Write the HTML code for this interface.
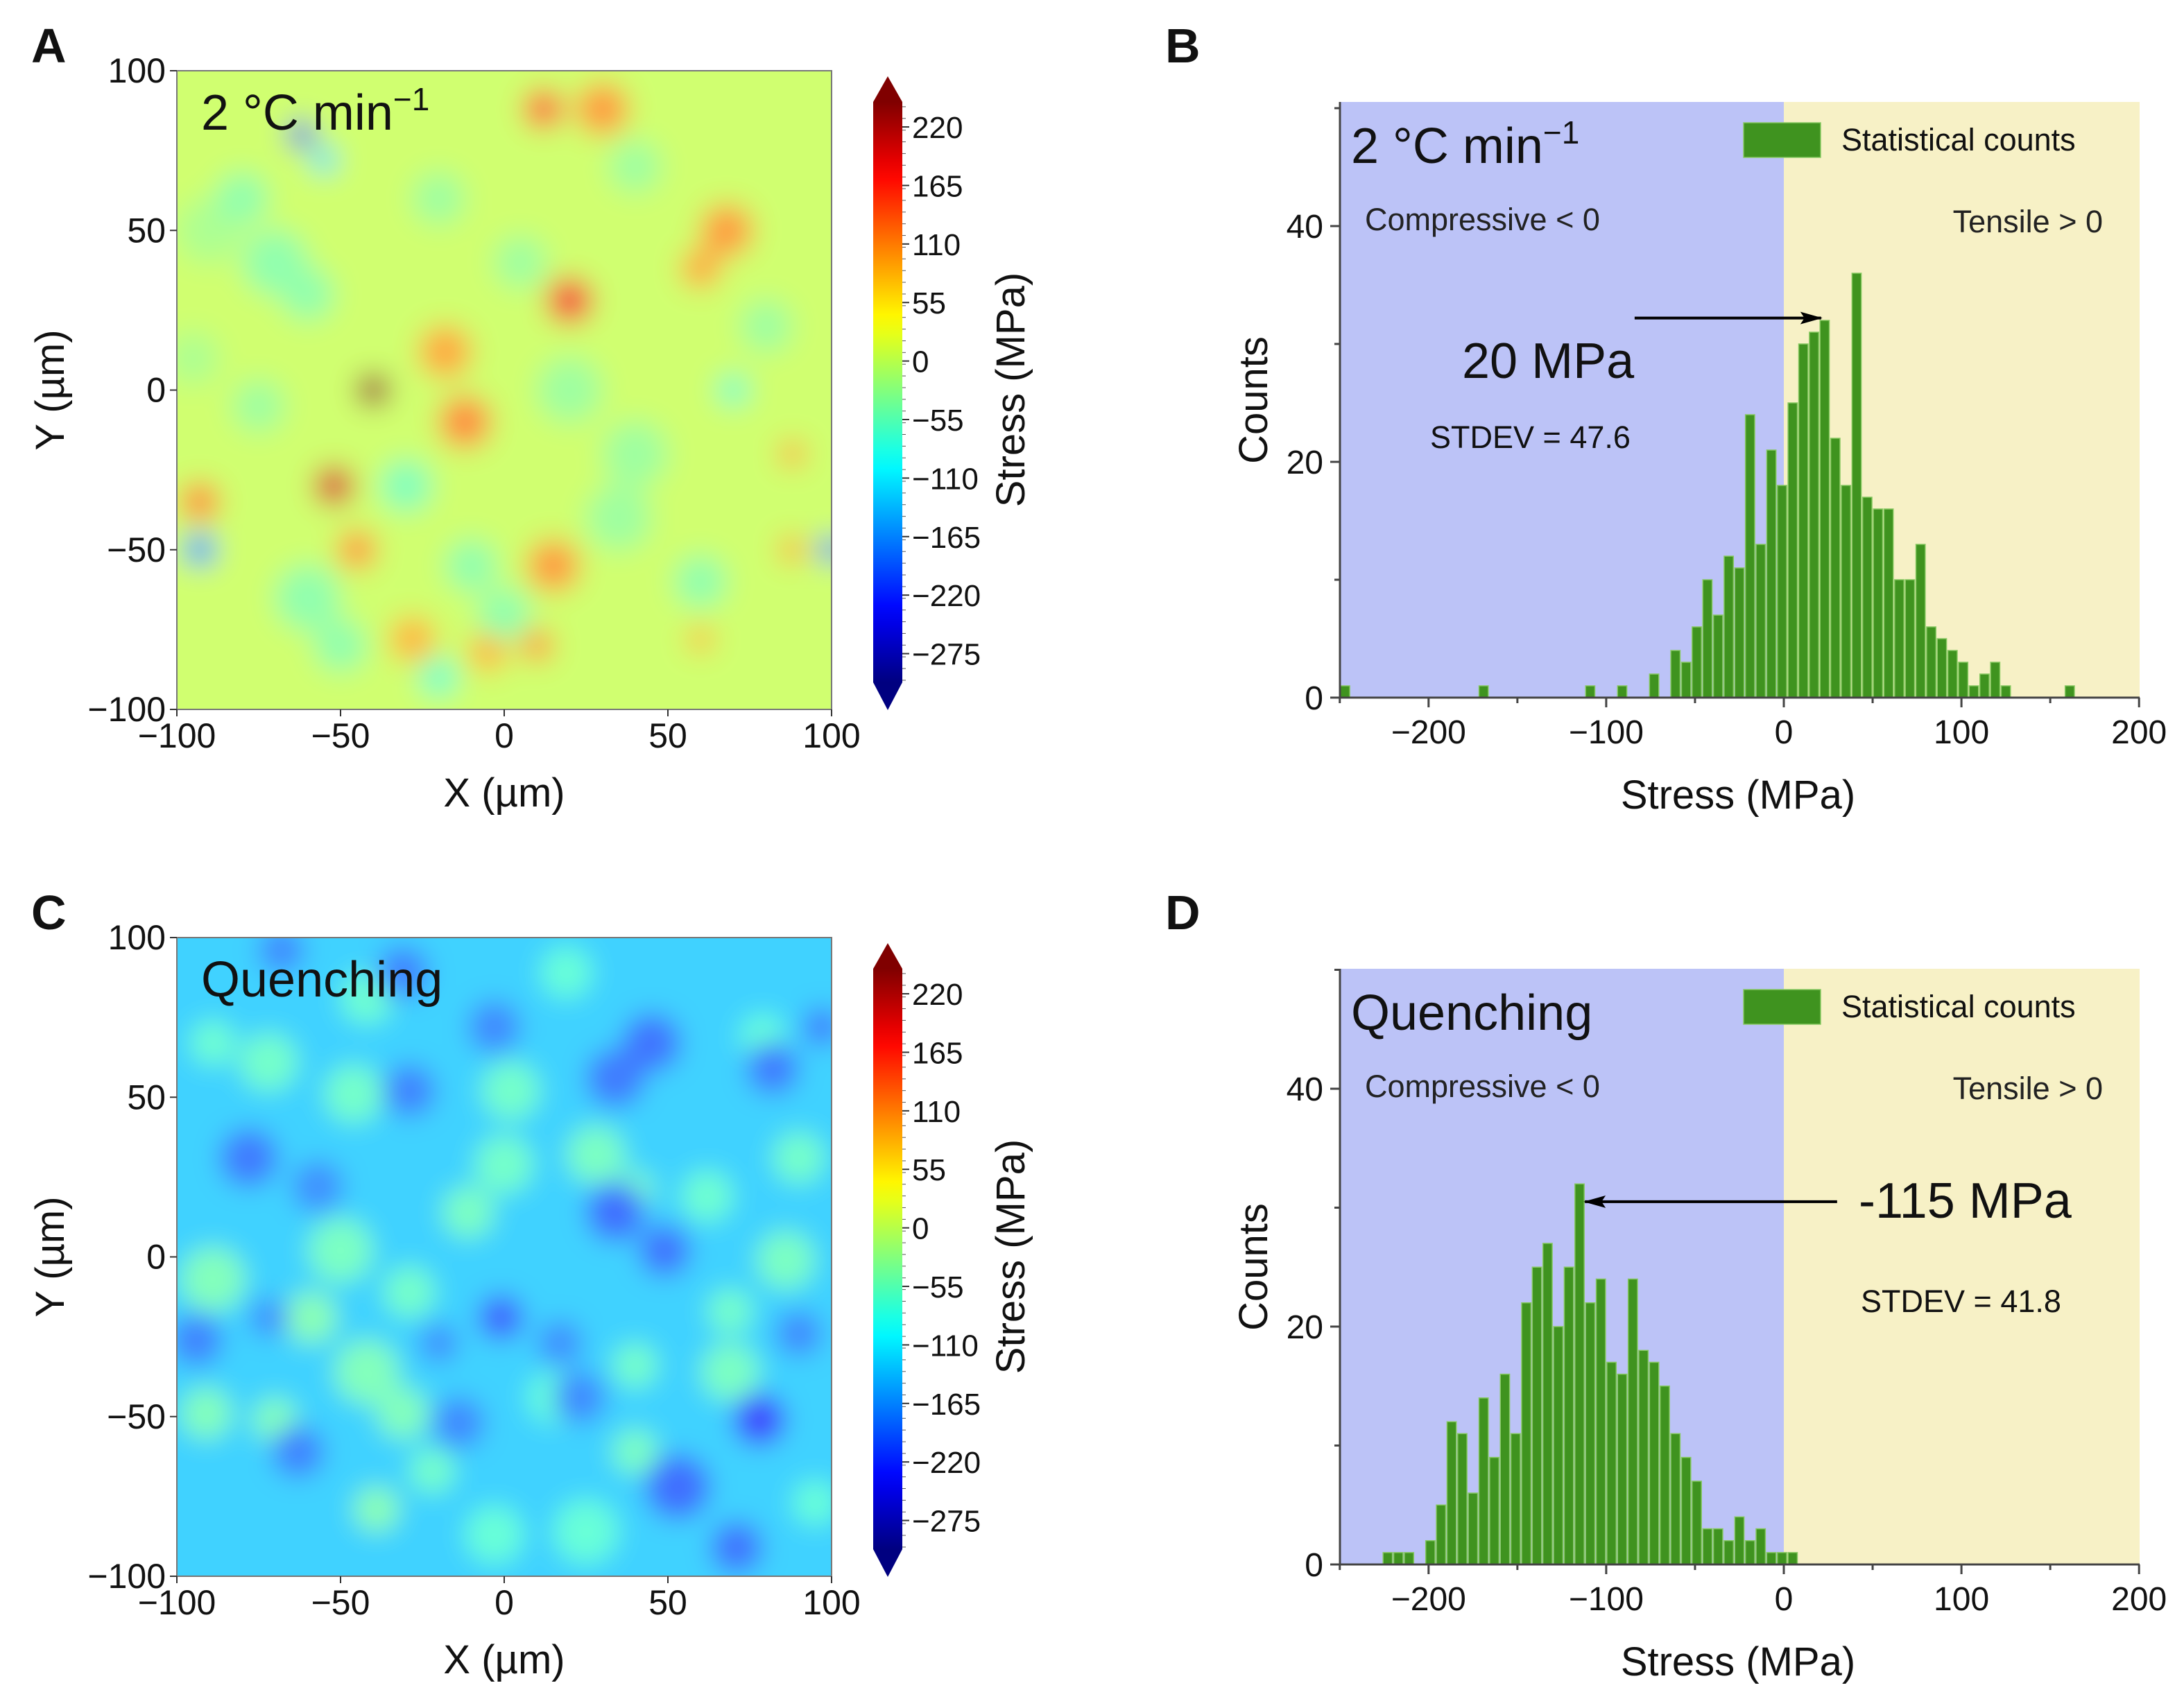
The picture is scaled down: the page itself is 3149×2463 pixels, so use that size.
<!DOCTYPE html>
<html><head><meta charset="utf-8">
<style>
html,body{margin:0;padding:0;background:#fff;}
svg{display:block;font-family:"Liberation Sans",Arial,sans-serif;}
</style></head>
<body>
<svg id="fig" width="3149" height="2463" viewBox="0 0 3149 2463" xmlns="http://www.w3.org/2000/svg">
<defs>
<filter id="blurA" x="-20%" y="-20%" width="140%" height="140%"><feGaussianBlur stdDeviation="20"/></filter>
<filter id="blurC" x="-20%" y="-20%" width="140%" height="140%"><feGaussianBlur stdDeviation="18"/></filter>
<clipPath id="clipA"><rect x="255" y="102" width="944" height="921"/></clipPath>
<clipPath id="clipC"><rect x="255" y="1352" width="944" height="921"/></clipPath>
<marker id="arrowhead" markerWidth="32" markerHeight="18" refX="30" refY="9" orient="auto" markerUnits="userSpaceOnUse" viewBox="0 0 32 18"><path d="M0,0 L32,9 L0,18 L6,9 Z" fill="#000"/></marker>
</defs>
</svg>
<script>
// ---------------- Data ----------------
const binsB = [-247,-169,-109,-91,-73,-61,-55,-49,-43,-37,-31,-25,-19,-13,-7,-1,5,11,17,23,29,35,41,47,53,59,65,71,77,83,89,95,101,107,113,119,125,161];
const countsB = [1,1,1,1,2,4,3,6,10,7,12,11,24,13,21,18,25,30,31,32,22,18,36,17,16,16,10,10,13,6,5,4,3,1,2,3,1,1];
const binsD = [-223,-217,-211,-205,-199,-193,-187,-181,-175,-169,-163,-157,-151,-145,-139,-133,-127,-121,-115,-109,-103,-97,-91,-85,-79,-73,-67,-61,-55,-49,-43,-37,-31,-25,-19,-13,-7,-1,5];
const countsD = [1,1,1,0,2,5,12,11,6,14,9,16,11,22,25,27,20,25,32,22,24,17,16,24,18,17,15,11,9,7,3,3,2,4,2,3,1,1,1];
const histXTicks = [-200,-100,0,100,200];
const histYTicks = [0,20,40];
const mapTicks = [-100,-50,0,50,100];
const cbarTicks = [220,165,110,55,0,-55,-110,-165,-220,-275];
// Stress map A blobs: x (µm), y (µm), stress (MPa), radius (µm)
const blobsAx = [-40,-52,20,12,30,68,60,-12,-18,-93,-45,15,-28,-5,10,60,88,88,-62,-55,-93,100,-70,-60,-20,35,-90,70,40,-80,-60,-30,-10,20,0,-50,80,40,-20,-95,60,-75,5];
const blobsAy = [0,-30,28,88,88,50,38,-10,12,-35,-50,-55,-78,-82,-80,-78,-20,-50,80,72,-50,-50,40,-65,-90,-40,50,0,-20,60,30,-30,-55,0,-70,-80,20,70,60,10,-60,-5,40];
const blobsAv = [250,200,180,150,110,110,100,120,100,120,110,110,90,90,110,90,100,100,-240,-120,-170,-200,-40,-40,-60,-30,-20,-60,-30,-40,-40,-50,-40,-30,-40,-40,-30,-30,-30,-20,-40,-30,-30];
const blobsAr = [5,6,7,6,8,8,6,8,8,6,6,8,7,6,5,4,4,4,4,4,5,4,10,10,6,10,10,5,10,8,8,8,8,10,8,8,8,8,8,8,8,8,8];
// Stress map C blobs
const blobsCx = [-72,-46,2,0,28,-11,40,90,86,-50,-89,-59,-42,-91,-70,-31,-22,-39,69,40,69,40,15,25,-3,-29,62,79,-42,-89,19,95,
                 78,-1,34,49,-78,-29,34,45,82,-3,-31,53,71,-94,-63,-14,23,90,-57,17,97,-68,-72,-20];
const blobsCy = [61,51,52,29,32,14,21,31,-1,2,-7,-19,-36,-49,-51,-49,-67,-79,-36,-61,-17,-34,-44,-86,-87,-11,19,69,81,67,89,-77,
                 -51,-19,14,2,31,52,56,67,59,72,89,-72,-91,-26,-61,-52,-44,-24,22,-27,72,96,-19,-27];
const blobsCv = [-60,-60,-60,-60,-55,-55,-55,-60,-55,-55,-50,-45,-50,-50,-50,-50,-60,-45,-55,-55,-60,-60,-70,-70,-70,-60,-65,-70,-65,-65,-70,-70,
                 -225,-205,-200,-195,-190,-185,-190,-195,-190,-180,-185,-200,-195,-185,-185,-180,-180,-180,-175,-175,-185,-180,-175,-175];
const blobsCr = [9,9,9,9,9,8,6,8,9,10,10,8,10,8,7,8,7,7,9,7,7,7,8,10,9,8,8,7,8,7,8,7,
                 8,7,9,8,9,8,9,9,8,8,8,10,8,8,8,8,8,7,8,7,6,7,6,6];

// ---------------- Helpers ----------------
const NS = "http://www.w3.org/2000/svg";
const svg = document.getElementById('fig');
function mk(tag, attrs, parent){
  const e = document.createElementNS(NS, tag);
  for (const k in attrs) e.setAttribute(k, attrs[k]);
  (parent||svg).appendChild(e);
  return e;
}
function txt(s, attrs, parent){ const e = mk('text', attrs, parent); e.textContent = s; return e; }
function jet(v, soft){
  let t = (v + 302) / 545; t = Math.max(0, Math.min(1, t));
  const w = soft ? 0.25 : 0;
  const c = x => Math.round(255 * ((1-w)*Math.max(0, Math.min(1, x)) + w));
  return `rgb(${c(1.5-Math.abs(4*t-3))},${c(1.5-Math.abs(4*t-2))},${c(1.5-Math.abs(4*t-1))})`;
}

// ---------------- Stress maps ----------------
function stressMap(oy, label, base, bx, by, bv, br, blur, clip, letter, mapName){
  const x0=255, x1=1199, y0=oy, y1=oy+921;
  const sx = v => x0 + (v+100)/200*(x1-x0);
  const sy = v => y1 - (v+100)/200*(y1-y0);
  const g = mk('g', {'clip-path':`url(#${clip})`});
  
  
  const bg = mk('g', {filter:`url(#${blur})`}, g);
  mk('rect', {x:x0-60, y:y0-60, width:x1-x0+120, height:y1-y0+120, fill:jet(base,true)}, bg);
  for (let i=0;i<bx.length;i++){
    const c = mk('circle', {cx:sx(bx[i]), cy:sy(by[i]), r:br[i]*4.72, fill:jet(bv[i],true)}, bg);
    
    
  }
  const fr = mk('rect', {x:x0, y:y0, width:x1-x0, height:y1-y0, fill:'none', stroke:'#777', 'stroke-width':2});
  
  
  mapTicks.forEach(t=>{
    mk('line',{x1:sx(t),x2:sx(t),y1:y1,y2:y1+10,stroke:'#333','stroke-width':2});
    const xl = txt(String(t).replace('-','−'), {x:sx(t), y:y1+55, 'font-size':50, 'text-anchor':'middle', fill:'#111'});
    
    
    mk('line',{x1:x0-10,x2:x0,y1:sy(t),y2:sy(t),stroke:'#333','stroke-width':2});
    const yl = txt(String(t).replace('-','−'), {x:x0-16, y:sy(t)+17, 'font-size':50, 'text-anchor':'end', fill:'#111'});
    
    
  });
  const xt = txt('X (µm)', {x:727, y:y1+140, 'font-size':58, 'text-anchor':'middle', fill:'#111'});
  
  
  const yt = txt('Y (µm)', {x:0, y:0, 'font-size':58, 'text-anchor':'middle', fill:'#111', transform:`translate(92,${(y0+y1)/2}) rotate(-90)`});
  
  
  const cy0 = oy+45, cy1 = oy+882;
  const cs = v => cy0 + (243.5 - v)/545.5*(cy1-cy0);
  const gid = 'grad'+letter;
  const lg = mk('linearGradient', {id:gid, x1:0, y1:0, x2:0, y2:1}, svg.querySelector('defs'));
  for (let i=0;i<=30;i++){ mk('stop', {offset:i/30, 'stop-color':jet(243.5 - i/30*545.5,false)}, lg); }
  const cb = mk('g', {});
  
  
  mk('rect', {x:1259, y:cy0, width:42, height:cy1-cy0, fill:`url(#${gid})`}, cb);
  mk('path', {d:`M1259,${cy0} L1280,${oy+8} L1301,${cy0} Z`, fill:'rgb(128,0,0)'}, cb);
  mk('path', {d:`M1259,${cy1} L1280,${oy+922} L1301,${cy1} Z`, fill:'rgb(0,0,128)'}, cb);
  for (let v=-300; v<=240; v+=11){ mk('line',{x1:1301,x2:1306,y1:cs(v),y2:cs(v),stroke:'#555','stroke-width':1}, cb); }
  cbarTicks.forEach(t=>{
    mk('line',{x1:1301,x2:1311,y1:cs(t),y2:cs(t),stroke:'#333','stroke-width':2}, cb);
    const l = txt(String(t).replace('-','−'), {x:1315, y:cs(t)+16, 'font-size':44, fill:'#111'}, cb);
    
    
  });
  const ct = txt('Stress (MPa)', {x:0,y:0,'font-size':58,'text-anchor':'middle',fill:'#111',transform:`translate(1477,${oy+460}) rotate(-90)`});
  
  
  const an = mk('text', {x:290, y:oy+85, 'font-size':72, fill:'#111'});
  
  
  if (label==='rate'){ an.innerHTML = '2 °C min<tspan dy="-28" font-size="46">−1</tspan>'; }
  else { an.textContent = 'Quenching'; }
  const pl = txt(letter, {x:45, y:oy-12, 'font-size':70, 'font-weight':'bold', fill:'#111'});
  
  
}
stressMap(102, 'rate', 5, blobsAx, blobsAy, blobsAv, blobsAr, 'blurA', 'clipA', 'A', 'stress-map-a');
stressMap(1352, 'quench', -130, blobsCx, blobsCy, blobsCv, blobsCr, 'blurC', 'clipC', 'C', 'stress-map-c');

// ---------------- Histograms ----------------
function histogram(oy, bins, counts, letter, title, arrow, peakLabel, peakPos, stdev, stdevPos, pxPerCount){
  const x0=1932, x1=3085, base=oy+859, top=oy;
  const sx = v => 2572 + v*2.561;
  const sy = c => base - c*pxPerCount;
  const g = mk('g', {});
  
  
  mk('rect',{x:x0,y:top,width:sx(0)-x0,height:base-top,fill:'#bcc3f7'}, g);
  mk('rect',{x:sx(0),y:top,width:x1-sx(0),height:base-top,fill:'#f7f1c6'}, g);
  for (let i=0;i<bins.length;i++){
    if (counts[i]<=0) continue;
    const b = mk('rect',{x:sx(bins[i]-3)+1, y:sy(counts[i]), width:6*2.561-2, height:counts[i]*pxPerCount, fill:'#3f931f', stroke:'#86c860','stroke-width':1.5}, g);
    
    
  }
  mk('line',{x1:x0,x2:x0,y1:top,y2:base,stroke:'#444','stroke-width':3}, g);
  mk('line',{x1:x0,x2:x1,y1:base,y2:base,stroke:'#444','stroke-width':3}, g);
  for (let v=-250; v<=200; v+=50){
    const major = histXTicks.includes(v);
    mk('line',{x1:sx(v),x2:sx(v),y1:base,y2:base+(major?14:8),stroke:'#444','stroke-width':3}, g);
  }
  histXTicks.forEach(t=>{
    const l = txt(String(t).replace('-','−'), {x:sx(t), y:base+66, 'font-size':48,'text-anchor':'middle',fill:'#111'}, g);
    
    
  });
  for (let c=0;c<=50;c+=10){ mk('line',{x1:x0-(c%20===0?14:8),x2:x0,y1:sy(c),y2:sy(c),stroke:'#444','stroke-width':3}, g); }
  histYTicks.forEach(t=>{
    const l = txt(String(t), {x:1908, y:sy(t)+17, 'font-size':48,'text-anchor':'end',fill:'#111'}, g);
    
    
  });
  const xt = txt('Stress (MPa)', {x:2506, y:base+160,'font-size':58,'text-anchor':'middle',fill:'#111'});
  
  
  const yt = txt('Counts', {x:0,y:0,'font-size':58,'text-anchor':'middle',fill:'#111',transform:`translate(1827,${oy+430}) rotate(-90)`});
  
  
  const lgd = mk('g',{});
  
  
  mk('rect',{x:2514,y:oy+30,width:111,height:50,fill:'#3f931f',stroke:'#86c860','stroke-width':1.5}, lgd);
  txt('Statistical counts',{x:2655,y:oy+70,'font-size':45,fill:'#111'}, lgd);
  const an = mk('text', {x:1948, y:oy+88, 'font-size':72, fill:'#111'});
  
  
  if (title==='rate'){ an.innerHTML = '2 °C min<tspan dy="-28" font-size="46">−1</tspan>'; } else { an.textContent = 'Quenching'; }
  const cl = txt('Compressive < 0',{x:1968,y:oy+185,'font-size':45,fill:'#222'});
  
  
  const tl = txt('Tensile > 0',{x:3032,y:oy+188,'font-size':45,'text-anchor':'end',fill:'#222'});
  
  
  const ar = mk('line',{x1:sx(arrow[0]),y1:sy(arrow[2]),x2:sx(arrow[1]),y2:sy(arrow[2]),stroke:'#000','stroke-width':4,'marker-end':'url(#arrowhead)'});
  
  
  const pk = txt(peakLabel,{x:peakPos[0],y:oy+peakPos[1],'font-size':72,fill:'#111'});
  
  
  const sd = txt(stdev,{x:stdevPos[0],y:oy+stdevPos[1],'font-size':45,fill:'#111'});
  
  
  const pl = txt(letter, {x:1680, y:oy-57, 'font-size':70, 'font-weight':'bold', fill:'#111'});
  
  
}
histogram(147, binsB, countsB, 'B', 'rate', [-84,21,32.2], '20 MPa', [2108,398], 'STDEV = 47.6', [2062,499], 17);
histogram(1397, binsD, countsD, 'D', 'quench', [30,-112,30.5], '-115 MPa', [2680,359], 'STDEV = 41.8', [2683,495], 17.15);
</script>
</body></html>
